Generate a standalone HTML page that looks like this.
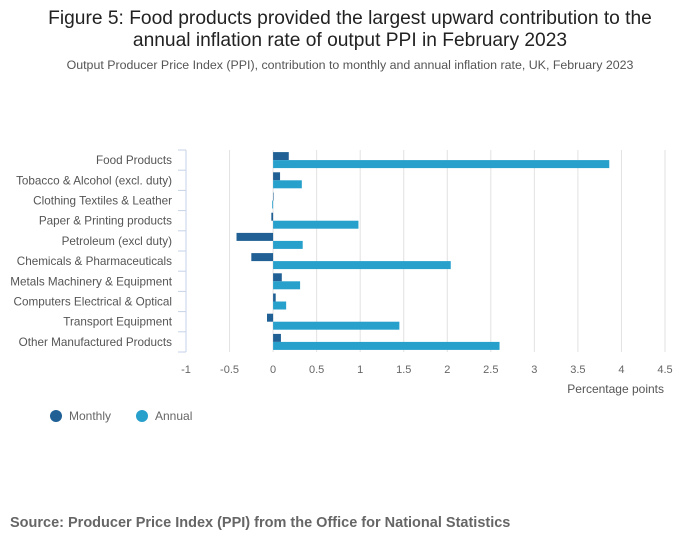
<!DOCTYPE html>
<html><head><meta charset="utf-8"><style>
body{margin:0;background:#fff;font-family:"Liberation Sans",sans-serif;}
#wrap{position:relative;width:700px;height:549px;overflow:hidden;}
</style></head><body>
<div id="wrap">
<svg id="chart" width="700" height="549" style="position:absolute;left:0;top:0">
<text x="350" y="24" text-anchor="middle" font-size="19.2" fill="#222">Figure 5: Food products provided the largest upward contribution to the</text>
<text x="350" y="46" text-anchor="middle" font-size="19.2" fill="#222">annual inflation rate of output PPI in February 2023</text>
<text x="350" y="69" text-anchor="middle" font-size="12.4" fill="#555">Output Producer Price Index (PPI), contribution to monthly and annual inflation rate, UK, February 2023</text>
<g id="grid"></g><g id="bars"></g><g id="axes"></g>
<text x="664" y="393" text-anchor="end" font-size="12" fill="#555">Percentage points</text>
<circle cx="56" cy="416" r="6" fill="#206095"/>
<text x="69" y="420" font-size="12" fill="#666">Monthly</text>
<circle cx="142" cy="416" r="6" fill="#27a0cc"/>
<text x="155" y="420" font-size="12" fill="#666">Annual</text>
<text x="10" y="527" font-size="14.5" font-weight="bold" fill="#666">Source: Producer Price Index (PPI) from the Office for National Statistics</text>
</svg>
</div>
<script>
const categories=["Food Products","Tobacco & Alcohol (excl. duty)","Clothing Textiles & Leather","Paper & Printing products","Petroleum (excl duty)","Chemicals & Pharmaceuticals","Metals Machinery & Equipment","Computers Electrical & Optical","Transport Equipment","Other Manufactured Products"];
const monthly=[0.18,0.08,0.0,-0.02,-0.42,-0.25,0.1,0.03,-0.07,0.09];
const annual=[3.86,0.33,-0.01,0.98,0.34,2.04,0.31,0.15,1.45,2.6];
const xTicks=[-1,-0.5,0,0.5,1,1.5,2,2.5,3,3.5,4,4.5];
const xTickLabels=["-1","-0.5","0","0.5","1","1.5","2","2.5","3","3.5","4","4.5"];

const NS="http://www.w3.org/2000/svg";
const x0=186,x1=665,xmin=-1,xmax=4.5,yTop=150,yBottom=352;
const xs=v=>x0+(v-xmin)/(xmax-xmin)*(x1-x0);
const band=(yBottom-yTop)/categories.length;
const ys=i=>yTop+band*(i+0.5);
function mk(tag,attrs,parent){const e=document.createElementNS(NS,tag);for(const k in attrs)e.setAttribute(k,attrs[k]);parent.appendChild(e);return e;}
const grid=document.getElementById('grid'),bars=document.getElementById('bars'),axes=document.getElementById('axes');
xTicks.forEach((t,i)=>{
  if(t!==xmin){const l=mk('line',{x1:xs(t),x2:xs(t),y1:yTop,y2:yBottom,stroke:'#e2e2e2','stroke-width':1},grid);
  
  }
  const tx=mk('text',{x:xs(t),y:373,'text-anchor':'middle','font-size':11,fill:'#666'},axes);
  tx.textContent=xTickLabels[i];
  
  
});
const ax=mk('line',{x1:x0,x2:x0,y1:yTop,y2:yBottom,stroke:'#c6d3e8','stroke-width':1},axes);


for(let i=0;i<=categories.length;i++){
  const tk=mk('line',{x1:x0-8,x2:x0,y1:yTop+band*i,y2:yTop+band*i,stroke:'#c6d3e8'},axes);
  
  
}
categories.forEach((c,i)=>{
  const tx=mk('text',{x:172,y:ys(i)+4,'text-anchor':'end','font-size':11.7,fill:'#555'},axes);
  tx.textContent=c;
  
  
  const z=xs(0);
  const m=xs(monthly[i]);
  const bm=mk('rect',{x:Math.min(z,m),y:ys(i)-8,width:Math.max(Math.abs(m-z),0.5),height:8,fill:'#206095'},bars);
  
  
  const a=xs(annual[i]);
  const ba=mk('rect',{x:Math.min(z,a),y:ys(i),width:Math.max(Math.abs(a-z),0.5),height:8,fill:'#27a0cc'},bars);
  
  
});
</script>
</body></html>
